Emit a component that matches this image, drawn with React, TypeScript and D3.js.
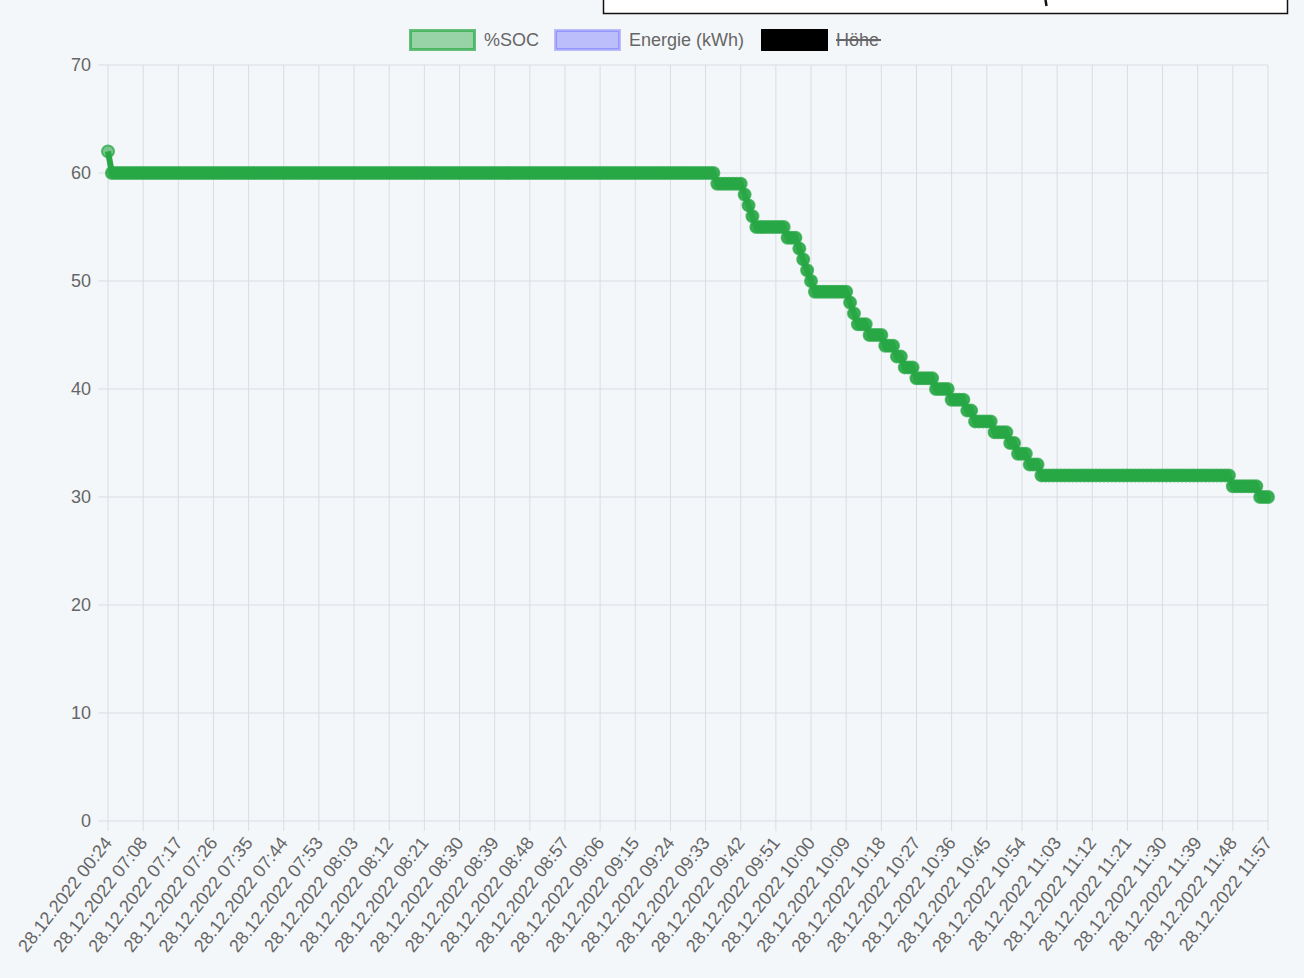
import React from 'react';
import * as d3 from 'd3';

// %SOC readings, one per sample (first sample 00:24, then roughly one per minute from ~07:00)
const SOC_VALUES = [
  62, 60, 60, 60, 60, 60, 60, 60, 60, 60, 60, 60, 60, 60, 60, 60, 60, 60, 60, 60,
  60, 60, 60, 60, 60, 60, 60, 60, 60, 60, 60, 60, 60, 60, 60, 60, 60, 60, 60, 60,
  60, 60, 60, 60, 60, 60, 60, 60, 60, 60, 60, 60, 60, 60, 60, 60, 60, 60, 60, 60,
  60, 60, 60, 60, 60, 60, 60, 60, 60, 60, 60, 60, 60, 60, 60, 60, 60, 60, 60, 60,
  60, 60, 60, 60, 60, 60, 60, 60, 60, 60, 60, 60, 60, 60, 60, 60, 60, 60, 60, 60,
  60, 60, 60, 60, 60, 60, 60, 60, 60, 60, 60, 60, 60, 60, 60, 60, 60, 60, 60, 60,
  60, 60, 60, 60, 60, 60, 60, 60, 60, 60, 60, 60, 60, 60, 60, 60, 60, 60, 60, 60,
  60, 60, 60, 60, 60, 60, 60, 60, 60, 60, 60, 60, 60, 60, 60, 60, 59, 59, 59, 59,
  59, 59, 59, 58, 57, 56, 55, 55, 55, 55, 55, 55, 55, 55, 54, 54, 54, 53, 52, 51,
  50, 49, 49, 49, 49, 49, 49, 49, 49, 49, 48, 47, 46, 46, 46, 45, 45, 45, 45, 44,
  44, 44, 43, 43, 42, 42, 42, 41, 41, 41, 41, 41, 40, 40, 40, 40, 39, 39, 39, 39,
  38, 38, 37, 37, 37, 37, 37, 36, 36, 36, 36, 35, 35, 34, 34, 34, 33, 33, 33, 32,
  32, 32, 32, 32, 32, 32, 32, 32, 32, 32, 32, 32, 32, 32, 32, 32, 32, 32, 32, 32,
  32, 32, 32, 32, 32, 32, 32, 32, 32, 32, 32, 32, 32, 32, 32, 32, 32, 32, 32, 32,
  32, 32, 32, 32, 32, 32, 32, 32, 31, 31, 31, 31, 31, 31, 31, 30, 30, 30,
];

// labels shown on the x axis (every 9th sample)
const TICK_LABELS = [
  '28.12.2022 00:24', '28.12.2022 07:08', '28.12.2022 07:17', '28.12.2022 07:26',
  '28.12.2022 07:35', '28.12.2022 07:44', '28.12.2022 07:53', '28.12.2022 08:03',
  '28.12.2022 08:12', '28.12.2022 08:21', '28.12.2022 08:30', '28.12.2022 08:39',
  '28.12.2022 08:48', '28.12.2022 08:57', '28.12.2022 09:06', '28.12.2022 09:15',
  '28.12.2022 09:24', '28.12.2022 09:33', '28.12.2022 09:42', '28.12.2022 09:51',
  '28.12.2022 10:00', '28.12.2022 10:09', '28.12.2022 10:18', '28.12.2022 10:27',
  '28.12.2022 10:36', '28.12.2022 10:45', '28.12.2022 10:54', '28.12.2022 11:03',
  '28.12.2022 11:12', '28.12.2022 11:21', '28.12.2022 11:30', '28.12.2022 11:39',
  '28.12.2022 11:48', '28.12.2022 11:57',
];
const TICK_STEP = 9;

const Y_TICKS = [0, 10, 20, 30, 40, 50, 60, 70];

const LEGEND = [
  { label: '%SOC', fill: 'rgba(40,167,69,0.45)', stroke: 'rgba(40,167,69,0.7)', hidden: false },
  { label: 'Energie (kWh)', fill: 'rgba(60,60,255,0.3)', stroke: 'rgba(60,60,255,0.3)', hidden: false },
  { label: 'Höhe', fill: '#000', stroke: '#000', hidden: true },
];

const W = 1304;
const H = 978;
const LEFT = 108;
const RIGHT = 1268;
const TOP = 65;
const BOTTOM = 821;
const FONT = '"Liberation Sans", Arial, Helvetica, sans-serif';
const GREEN = 'rgb(40,167,69)';
const GRID = '#d9dde2';

export default function App() {
  const idx = d3.range(SOC_VALUES.length);
  const x = d3.scalePoint<number>().domain(idx).range([LEFT, RIGHT]);
  const y = d3.scaleLinear().domain([0, 70]).range([BOTTOM, TOP]);

  const line = d3.line<number>()
    .x((d, i) => x(i) as number)
    .y(d => y(d));

  const ticks = TICK_LABELS.map((label, k) => ({ label, px: x(k * TICK_STEP) as number }));

  // legend layout (box positions)
  const legendPos = [409, 554, 761];
  const legendY = 29;

  return (
    <div style={{ position: 'absolute', left: 0, top: 0 }}>
      <svg width={W} height={H} style={{ display: 'block' }}>
        <rect width={W} height={H} fill="#f4f7fa" />

        {/* cut-off box at the top */}
        <rect x={603.5} y={-4} width={684} height={17.5} fill="#fff" stroke="#111" strokeWidth={1.5} />
        <path d="M1045.5,0 L1046.5,6" stroke="#111" strokeWidth={2.5} />

        {/* legend */}
        {LEGEND.map((item, k) => {
          const bx = legendPos[k];
          return (
            <g key={item.label}>
              <rect x={bx + 1.5} y={legendY + 1.5} width={64} height={19} fill={item.fill}
                stroke={item.stroke} strokeWidth={3} />
              <text x={bx + 75} y={legendY + 17} fontFamily={FONT} fontSize={18} fill="#666">
                {item.label}
              </text>
              {item.hidden && (
                <line x1={bx + 75} x2={bx + 120} y1={legendY + 11} y2={legendY + 11}
                  stroke="#666" strokeWidth={2} />
              )}
            </g>
          );
        })}

        {/* grid */}
        {ticks.map(t => (
          <line key={'gx' + t.label} x1={t.px} x2={t.px} y1={TOP} y2={BOTTOM + 10}
            stroke={GRID} strokeWidth={1} />
        ))}
        {Y_TICKS.map(v => (
          <line key={'gy' + v} x1={LEFT - 10} x2={RIGHT} y1={y(v)} y2={y(v)}
            stroke={GRID} strokeWidth={1} />
        ))}

        {/* y labels */}
        {Y_TICKS.map(v => (
          <text key={'ty' + v} x={91} y={y(v) + 6} textAnchor="end" fontFamily={FONT}
            fontSize={18} fill="#666">{v}</text>
        ))}

        {/* x labels */}
        {ticks.map(t => (
          <text key={'tx' + t.label} transform={`translate(${t.px + 5},${BOTTOM + 22}) rotate(-52)`}
            textAnchor="end" fontFamily={FONT} fontSize={18} fill="#666">{t.label}</text>
        ))}

        {/* series */}
        <path d={line(SOC_VALUES) || ''} fill="none" stroke={GREEN} strokeWidth={6} />
        {SOC_VALUES.map((v, i) => (
          <circle key={i} cx={x(i) as number} cy={y(v)} r={6}
            fill={i === 0 ? 'rgba(40,167,69,0.6)' : 'rgba(40,167,69,0.9)'}
            stroke="rgba(40,167,69,0.75)" strokeWidth={2} />
        ))}
      </svg>
    </div>
  );
}
